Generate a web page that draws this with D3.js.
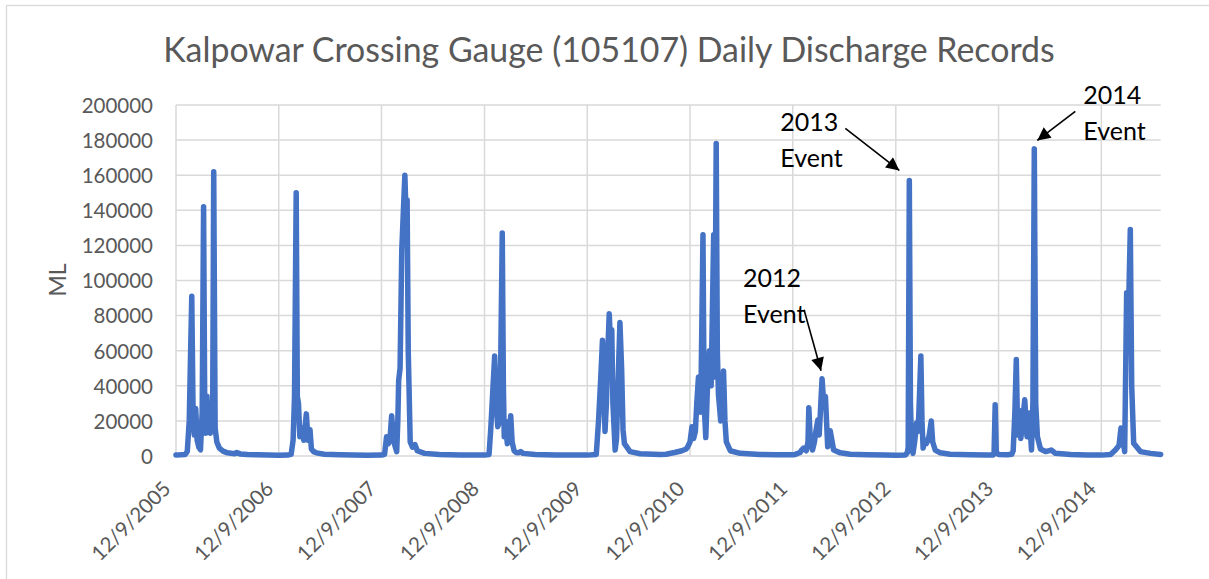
<!DOCTYPE html>
<html>
<head>
<meta charset="utf-8">
<script src="https://cdn.jsdelivr.net/npm/d3@7"></script>
<style>
  body { margin: 0; background: #fff; }
  svg text { font-family: Lato, "Open Sans", sans-serif; }
</style>
</head>
<body>
<svg id="chart" width="1209" height="579"></svg>
<script>
// daily discharge (ML): peaks, troughs and recessions per wet season
var dates = [
  // 2005-06
  "2005-12-09","2005-12-25","2006-01-10","2006-01-18","2006-01-25","2006-01-30","2006-02-03","2006-02-08",
  "2006-02-12","2006-02-17","2006-02-22","2006-02-28","2006-03-06","2006-03-12","2006-03-17","2006-03-21",
  "2006-03-25","2006-03-29","2006-04-02","2006-04-06","2006-04-10","2006-04-14","2006-04-18","2006-04-22",
  "2006-04-27","2006-05-03","2006-05-12","2006-05-25","2006-06-10","2006-07-05","2006-07-13","2006-07-25",
  "2006-08-20","2006-09-25","2006-11-01","2006-12-09",
  // 2006-07
  "2007-01-10","2007-01-22","2007-01-29","2007-02-03","2007-02-09","2007-02-13","2007-02-17","2007-02-22",
  "2007-03-01","2007-03-08","2007-03-17","2007-03-23","2007-03-30","2007-04-04","2007-04-12","2007-04-22",
  "2007-05-20","2007-07-15","2007-09-01","2007-10-20","2007-12-09",
  // 2007-08
  "2007-12-20","2007-12-27","2008-01-02","2008-01-08","2008-01-14","2008-01-22","2008-02-01","2008-02-05",
  "2008-02-08","2008-02-13","2008-02-19","2008-03-01","2008-03-05","2008-03-09","2008-03-13","2008-03-20",
  "2008-03-28","2008-04-06","2008-04-14","2008-05-10","2008-07-01","2008-09-15","2008-12-09",
  // 2008-09
  "2008-12-25","2008-12-31","2009-01-05","2009-01-14","2009-01-19","2009-01-25","2009-02-01","2009-02-05",
  "2009-02-10","2009-02-14","2009-02-17","2009-02-21","2009-02-28","2009-03-06","2009-03-12","2009-03-17",
  "2009-03-24","2009-03-31","2009-04-08","2009-04-16","2009-04-25","2009-06-07","2009-08-20","2009-12-09",
  // 2009-10
  "2010-01-10","2010-01-18","2010-01-26","2010-02-01","2010-02-05","2010-02-10","2010-02-15","2010-02-20",
  "2010-02-25","2010-03-02","2010-03-06","2010-03-10","2010-03-18","2010-03-23","2010-03-28","2010-04-04",
  "2010-04-10","2010-04-15","2010-04-20","2010-05-10","2010-06-15","2010-08-25","2010-09-15","2010-10-15",
  "2010-11-10","2010-11-25","2010-11-30",
  // 2010-11
  "2010-12-09","2010-12-16","2010-12-22","2010-12-28","2011-01-02","2011-01-08","2011-01-16","2011-01-24",
  "2011-01-28","2011-02-03","2011-02-09","2011-02-16","2011-02-22","2011-03-03","2011-03-07","2011-03-12",
  "2011-03-16","2011-03-20","2011-03-28","2011-04-07","2011-04-12","2011-04-17","2011-05-01","2011-06-05",
  "2011-08-14","2011-10-15","2011-12-09",
  // 2011-12
  "2011-12-18","2012-01-04","2012-01-10","2012-01-16","2012-01-26","2012-02-01","2012-02-04","2012-02-09",
  "2012-02-17","2012-02-24","2012-02-29","2012-03-07","2012-03-12","2012-03-22","2012-03-28","2012-04-03",
  "2012-04-11","2012-04-16","2012-04-20","2012-05-02","2012-05-26","2012-06-30","2012-09-01","2012-11-01",
  "2012-12-09",
  // 2012-13
  "2013-01-12","2013-01-19","2013-01-22","2013-01-26","2013-01-30","2013-02-03","2013-02-08","2013-02-14",
  "2013-02-21","2013-02-26","2013-03-01","2013-03-08","2013-03-12","2013-03-16","2013-03-22","2013-03-27",
  "2013-04-02","2013-04-07","2013-04-14","2013-04-19","2013-04-28","2013-05-16","2013-06-20","2013-08-30",
  "2013-10-30","2013-11-20",
  // 2013-14
  "2013-11-23","2013-11-27","2013-12-01","2013-12-09","2014-01-10","2014-01-25","2014-01-30","2014-02-05",
  "2014-02-10","2014-02-15","2014-02-21","2014-02-26","2014-03-03","2014-03-12","2014-03-20","2014-03-28",
  "2014-04-05","2014-04-10","2014-04-15","2014-04-20","2014-04-26","2014-05-07","2014-05-25","2014-06-14",
  "2014-06-29","2014-08-22","2014-10-20","2014-12-09",
  // 2014-15
  "2015-01-11","2015-01-28","2015-02-10","2015-02-17","2015-02-25","2015-03-02","2015-03-09","2015-03-14",
  "2015-03-22","2015-03-27","2015-04-03","2015-04-27","2015-06-02","2015-07-08"
];

var discharge = [
  // 2005-06
  600, 700, 900, 2500, 20000, 60000, 91000, 20000,
  12000, 27000, 9000, 5000, 3500, 25000, 142000, 30000,
  13000, 34000, 14000, 30000, 13000, 28000, 16000, 162000,
  16000, 8000, 4500, 2800, 1800, 1300, 2000, 1200,
  900, 700, 500, 400,
  // 2006-07
  500, 900, 9000, 34000, 150000, 34000, 30000, 11000,
  16000, 9000, 24000, 9000, 15000, 4000, 2500, 1800,
  1000, 700, 500, 450, 500,
  // 2007-08
  1000, 11000, 7000, 9000, 23000, 8000, 2500, 20000,
  43000, 50000, 117000, 160000, 138000, 146000, 60000, 8000,
  5000, 6500, 3000, 1500, 800, 550, 500,
  // 2008-09
  800, 15000, 30000, 57000, 30000, 16700, 20000, 60000,
  127000, 40000, 11000, 20000, 7000, 10000, 23000, 8000,
  3000, 2000, 1800, 2500, 1500, 900, 600, 500,
  // 2009-10
  900, 20000, 45000, 66000, 40000, 14000, 30000, 60000,
  81000, 62000, 72000, 30000, 3400, 10000, 40000, 76000,
  50000, 15000, 7000, 2500, 1300, 800, 1000, 2000,
  3000, 4000, 5000,
  // 2010-11
  8000, 16700, 10000, 14000, 30000, 45000, 25000, 126000,
  30000, 10500, 40000, 60000, 40000, 126000, 45000, 178000,
  60000, 35000, 20000, 48500, 20000, 8000, 3000, 1500,
  900, 700, 700,
  // 2011-12
  900, 2000, 3500, 4500, 3000, 8000, 27500, 10000,
  3400, 8000, 14000, 20500, 12000, 44000, 30000, 34000,
  5300, 8000, 14400, 3400, 1800, 1000, 700, 500,
  450,
  // 2012-13
  500, 2000, 5000, 157000, 30000, 6000, 1500, 8000,
  19000, 14000, 25000, 57000, 20000, 4500, 9000, 7000,
  9000, 12000, 20000, 8000, 3400, 1800, 1000, 700,
  500, 600,
  // 2013-14
  1000, 29200, 2000, 900, 700, 1000, 3000, 25000,
  55000, 12000, 26000, 10000, 17000, 32000, 11000, 24500,
  3400, 30000, 175000, 30000, 11000, 4000, 2500, 3400,
  1500, 900, 600, 500,
  // 2014-15
  800, 3400, 6000, 16000, 8000, 2500, 93000, 70000,
  129000, 40000, 7200, 2500, 1500, 900
];

var yTicks = [0, 20000, 40000, 60000, 80000, 100000, 120000, 140000, 160000, 180000, 200000];
var xTickDates = ["2005-12-09","2006-12-09","2007-12-09","2008-12-09","2009-12-09",
                  "2010-12-09","2011-12-09","2012-12-09","2013-12-09","2014-12-09"];

var eventNames = ["2012", "2013", "2014"];
var eventDates = ["2012-03-22", "2013-01-26", "2014-04-15"];

var titleText = "Kalpowar Crossing Gauge (105107) Daily Discharge Records";
var yLabel = "ML";

var parse = d3.timeParse("%Y-%m-%d");
var series = dates.map(function(d, i) { return { date: parse(d), value: discharge[i] }; });

var svg = d3.select("#chart");
var plotLeft = 176, plotRight = 1160.7, plotTop = 105, plotBottom = 456;

var x = d3.scaleTime()
    .domain(d3.extent(series, function(d) { return d.date; }))
    .range([plotLeft, plotRight]);

var y = d3.scaleLinear()
    .domain([0, 200000])
    .range([plotBottom, plotTop]);

// chart area border (only top / left are in frame)
svg.append("rect")
    .attr("x", 6.5).attr("y", 5.5)
    .attr("width", 1220).attr("height", 600)
    .attr("fill", "#fff")
    .attr("stroke", "#d9d9d9")
    .attr("stroke-width", 1.3);

// title, sized so that it spans the same width as the original
var title = svg.append("text")
    .attr("x", 609).attr("y", 62)
    .attr("text-anchor", "middle")
    .attr("fill", "#595959")
    .attr("font-size", 30)
    .text(titleText);
var tw = title.node().getComputedTextLength();
title.attr("font-size", 30 * 892 / tw);

// grid
var grid = svg.append("g").attr("stroke", "#d9d9d9").attr("stroke-width", 1.5);
grid.selectAll("line.h")
    .data(yTicks)
    .enter().append("line")
    .attr("class", "h")
    .attr("x1", plotLeft).attr("x2", plotRight)
    .attr("y1", function(d) { return y(d); })
    .attr("y2", function(d) { return y(d); });

grid.selectAll("line.v")
    .data(xTickDates.map(parse))
    .enter().append("line")
    .attr("class", "v")
    .attr("x1", function(d) { return x(d); })
    .attr("x2", function(d) { return x(d); })
    .attr("y1", plotTop).attr("y2", plotBottom);

// y axis
var yAxis = d3.axisLeft(y)
    .tickValues(yTicks)
    .tickSize(0)
    .tickPadding(0)
    .tickFormat(d3.format("d"));

var gy = svg.append("g")
    .attr("transform", "translate(" + 153 + ",0)")
    .call(yAxis);
gy.select(".domain").remove();
gy.selectAll("text")
    .attr("font-size", 20.5)
    .attr("fill", "#595959")
    .attr("font-family", "Lato, sans-serif")
    .attr("dy", "0.36em");

svg.append("text")
    .attr("transform", "translate(" + 66 + "," + 280 + ") rotate(-90)")
    .attr("text-anchor", "middle")
    .attr("font-size", 23)
    .attr("fill", "#595959")
    .text(yLabel);

// x axis labels, rotated
var fmt = d3.timeFormat("%-m/%-d/%Y");
svg.append("g").selectAll("text")
    .data(xTickDates.map(parse))
    .enter().append("text")
    .attr("transform", function(d) { return "translate(" + (x(d) - 4) + "," + 490 + ") rotate(-45)"; })
    .attr("text-anchor", "end")
    .attr("font-size", 20.5)
    .attr("fill", "#595959")
    .text(function(d) { return fmt(d); });

// discharge line
var line = d3.line()
    .x(function(d) { return x(d.date); })
    .y(function(d) { return y(d.value); });

svg.append("path")
    .datum(series)
    .attr("d", line)
    .attr("fill", "none")
    .attr("stroke", "#4472C4")
    .attr("stroke-width", 5.5)
    .attr("stroke-linejoin", "round")
    .attr("stroke-linecap", "round");

// annotations
svg.append("defs").append("marker")
    .attr("id", "arrow")
    .attr("viewBox", "0 0 10 10")
    .attr("refX", 10).attr("refY", 5)
    .attr("markerUnits", "userSpaceOnUse")
    .attr("markerWidth", 15).attr("markerHeight", 13)
    .attr("orient", "auto")
    .append("path")
    .attr("d", "M0,0 L10,5 L0,10 z")
    .attr("fill", "#000");

// offsets (px) from each event peak: text corner, arrow tail, arrow tip
var annLayout = [
  { tx: -79,  ty: -92,   ax: -18, ay: -69,   bx: -1,  by: -8 },
  { tx: -129, ty: -49,   ax: -64, ay: -52,   bx: -10, by: -10 },
  { tx: 49,   ty: -44.5, ax: 41,  ay: -37.5, bx: 3,   by: -8.5 }
];

eventNames.forEach(function(name, i) {
  var dt = parse(eventDates[i]);
  var pt = series.find(function(d) { return +d.date === +dt; });
  var px = x(pt.date), py = y(pt.value), L = annLayout[i];

  var t = svg.append("text")
      .attr("x", px + L.tx).attr("y", py + L.ty)
      .attr("font-size", 25)
      .attr("fill", "#000");
  t.append("tspan").attr("x", px + L.tx).text(name);
  t.append("tspan").attr("x", px + L.tx).attr("dy", 36).text("Event");

  svg.append("line")
      .attr("x1", px + L.ax).attr("y1", py + L.ay)
      .attr("x2", px + L.bx).attr("y2", py + L.by)
      .attr("stroke", "#000")
      .attr("stroke-width", 1.6)
      .attr("marker-end", "url(#arrow)");
});
</script>
</body>
</html>
